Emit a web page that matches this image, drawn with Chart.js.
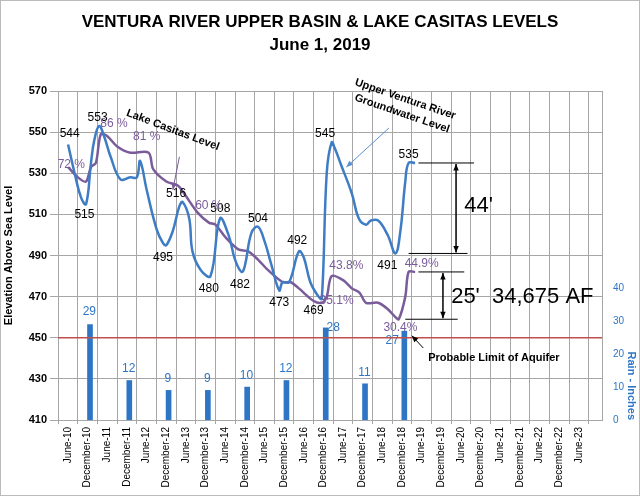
<!DOCTYPE html>
<html><head><meta charset="utf-8">
<script src="https://cdn.jsdelivr.net/npm/chart.js@4"></script>
<style>html,body{margin:0;padding:0;background:#fff}#w{width:640px;height:496px;position:relative}</style>
</head><body><div id="w"><canvas id="c" width="640" height="496"></canvas></div>
<script>
// months since June 2010
const gwMonths=[0,2,4,5.5,7,8,9.5,11,13,16,19,21,22,24,27,29,30,32,34,35,37,38,40.5,43.5,46.4,49,51,53,54,56,58,60,62,64.5,65.5,67.5,70.5,72,74,76.5,77.5,79,80.5,81.5,83.4,86.7,88.8,91,92.5,94.7,97.6,100,101.5,103,104,106];
const gwValues=[544,530,518,515,535,546,553,548,538,527,528,528,536,522,503,496,495,502,514,516,508,492,483,480,508,500,488,482,485,501,504,497,486,473,477,477,492,489,477,470,469,530,545,542,534,520,508,505,507,507,500,491,502,526,535,535];
const lkMonths=[0,3,5.5,7,8.5,10,12,15,19,24.6,26,30,33.5,35.5,39.5,43,45,48,52,55,58,61,65.6,68,70.5,74.9,77.5,79,80.5,84,86.7,89,91,94.7,97.6,100,101,103,104,106];
const lkValues=[533,528,526,533,535,549,548,543,540,540,532,526,524,520,511,506,505,499,493,492,488,483,477,477,474,468,467,470,480,478,474,472,467,467,464,460,459,470,482,482];
const rainMonths=[6,18,30,42,54,66,78,90,102];
const rainValues=[29,12,9,9,10,12,28,11,27];
const tickNames=["June-10","December-10","June-11","December-11","June-12","December-12","June-13","December-13","June-14","December-14","June-15","December-15","June-16","December-16","June-17","December-17","June-18","December-18","June-19","December-19","June-20","December-20","June-21","December-21","June-22","December-22","June-23"];
const gwLabels=[[0.5,549,"544"],[5,510,"515"],[9,557,"553"],[33,520,"516"],[29,489,"495"],[46.5,513,"508"],[43,474,"480"],[58,508,"504"],[52.5,476,"482"],[70,497,"492"],[64.5,467,"473"],[75,463,"469"],[78.5,549,"545"],[97.5,485,"491"],[104,539,"535"]];
const lkLabels=[[1,534,"72 %"],[14,554,"86 %"],[24,548,"81 %"],[43,514,"60 %"],[82,468,"35.1%"],[85,485,"43.8%"],[101.5,455,"30.4%"],[108,486,"44.9%"]];
const rainLabelPos=[[6.5,33],[18.5,15.5],[30.5,12.5],[42.5,12.5],[54.5,13.5],[66.5,15.5],[81,28],[90.5,14.5],[99,24]];

const BLUE='#3e7cc4',PURPLE='#7a5c9a',RB='#2e75c6';
const ann={id:'ann',afterDatasetsDraw(ch){
 const c=ch.ctx,x=ch.scales.x,y=ch.scales.y,r=ch.scales.y2;
 const X=v=>x.getPixelForValue(v),Y=v=>y.getPixelForValue(v);
 c.save();
 c.textAlign='center';c.textBaseline='middle';
 c.fillStyle='#000';c.font='bold 17px "Liberation Sans",Arial';
 c.fillText('VENTURA RIVER UPPER BASIN & LAKE CASITAS LEVELS',320,22);
 c.fillText('June 1, 2019',320,45);
 c.font='12px "Liberation Sans",Arial';
 gwLabels.forEach(l=>c.fillText(l[2],X(l[0]),Y(l[1])));
 c.fillStyle=PURPLE;
 lkLabels.forEach(l=>c.fillText(l[2],X(l[0]),Y(l[1])));
 c.fillStyle=RB;
 rainValues.forEach((v,i)=>c.fillText(String(v),X(rainLabelPos[i][0]),r.getPixelForValue(rainLabelPos[i][1])));
 c.strokeStyle='#c0504d';c.lineWidth=1.5;c.beginPath();c.moveTo(x.left,Y(450));c.lineTo(x.right,Y(450));c.stroke();
 c.strokeStyle='#000';c.lineWidth=1;
 const hl=(a,b,v)=>{c.beginPath();c.moveTo(X(a),Y(v));c.lineTo(X(b),Y(v));c.stroke();};
 hl(107,124,535);hl(104,122,491);hl(107,121,482);hl(103,119,459);
 const arr=(x1,y1,x2,y2,col,two)=>{c.strokeStyle=col;c.fillStyle=col;c.beginPath();c.moveTo(x1,y1);c.lineTo(x2,y2);c.stroke();
  const head=(px,py,qx,qy)=>{const a=Math.atan2(py-qy,px-qx);c.beginPath();c.moveTo(px,py);c.lineTo(px-7*Math.cos(a-0.4),py-7*Math.sin(a-0.4));c.lineTo(px-7*Math.cos(a+0.4),py-7*Math.sin(a+0.4));c.closePath();c.fill();};
  head(x2,y2,x1,y1);if(two)head(x1,y1,x2,y2);};
 c.lineWidth=1.5;
 arr(X(118.5),Y(534.5),X(118.5),Y(491.5),'#000',true);
 arr(X(114.5),Y(481.5),X(114.5),Y(459.5),'#000',true);
 c.lineWidth=1;
 arr(X(108.5),Y(445),X(105),Y(451),'#000',false);
 arr(X(34),Y(538),X(32),Y(522),PURPLE,false);
 arr(X(98),Y(552),X(85),Y(533),'#5b8fd0',false);
 c.fillStyle='#000';c.textAlign='left';
 c.font='22px "Liberation Sans",Arial';
 c.fillText("44'",X(121),Y(514));
 c.fillText("25'  34,675 AF",X(117),Y(470));
 c.font='bold 11px "Liberation Sans",Arial';
 c.fillText('Probable Limit of Aquifer',X(110),Y(440));
 const rot=(t,px,py,ang)=>{c.save();c.translate(px,py);c.rotate(ang);c.textAlign='center';c.fillText(t,0,0);c.restore();};
 rot('Lake Casitas Level',X(32),Y(551),0.36);
 rot('Upper Ventura River',X(103),Y(566),0.33);
 rot('Groundwater Level',X(102),Y(559),0.33);
 c.restore();
 c.save();c.strokeStyle='#bbb';c.strokeRect(0.5,0.5,639,495);c.restore();
}};
new Chart(document.getElementById('c'),{
 data:{datasets:[
  {type:'line',data:gwMonths.map((m,i)=>({x:m,y:gwValues[i]})),borderColor:BLUE,borderWidth:2.5,pointRadius:0,tension:0.4,yAxisID:'y'},
  {type:'line',data:lkMonths.map((m,i)=>({x:m,y:lkValues[i]})),borderColor:PURPLE,borderWidth:2.5,pointRadius:0,tension:0.3,yAxisID:'y'},
  {type:'bar',data:rainMonths.map((m,i)=>({x:m+0.7,y:rainValues[i]})),backgroundColor:RB,barThickness:5,yAxisID:'y2'}
 ]},
 options:{responsive:false,animation:false,devicePixelRatio:1,
  layout:{padding:{top:91,right:0,left:0,bottom:0}},
  plugins:{legend:{display:false},tooltip:{enabled:false}},
  scales:{
   x:{type:'linear',min:0,max:160,afterBuildTicks(s){s.ticks=tickNames.map((n,i)=>({value:i*6}));},
      afterFit(s){s.height=76;},
      ticks:{autoSkip:false,maxRotation:90,minRotation:90,color:'#000',font:{size:10,family:'Liberation Sans'},callback:(v)=>tickNames[v/6]||''},
      grid:{color:'#a6a6a6',drawTicks:true,tickLength:4},border:{color:'#a6a6a6'}},
   y:{min:410,max:570,position:'left',afterFit(s){s.width=58;},
      ticks:{stepSize:20,color:'#000',font:{size:11,weight:'bold',family:'Liberation Sans'}},
      grid:{color:'#a6a6a6'},border:{color:'#a6a6a6'},
      title:{display:true,text:'Elevation Above Sea Level',color:'#000',font:{size:11,weight:'bold',family:'Liberation Sans'},padding:2}},
   y2:{min:0,max:100,position:'right',afterFit(s){s.width=38;},
      ticks:{stepSize:10,color:RB,font:{size:10,family:'Liberation Sans'},callback:v=>v<=40?v:''},
      grid:{display:false},border:{color:'#a6a6a6'},
      title:{display:true,text:'Rain - Inches',color:RB,align:'start',font:{size:11,weight:'bold',family:'Liberation Sans'},padding:2}}
  }}
 ,plugins:[ann]});
</script></body></html>
